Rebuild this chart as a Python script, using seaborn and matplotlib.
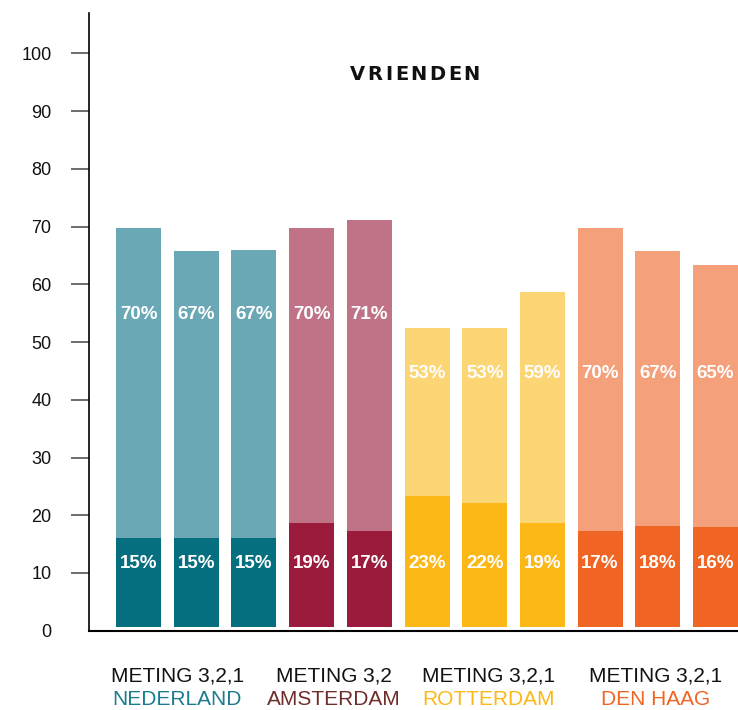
import pandas as pd
import seaborn as sns
import matplotlib.pyplot as plt

sns.set_theme(style="white")
plt.rcParams["font.family"] = ["Liberation Sans", "DejaVu Sans"]

# ---- data ----
groups = ["NEDERLAND", "AMSTERDAM", "ROTTERDAM", "DEN HAAG"]
group_titles = ["METING 3,2,1", "METING 3,2", "METING 3,2,1", "METING 3,2,1"]
group_sizes = [3, 2, 3, 3]

# bar tops as read against the y axis
total_tops = [69.8, 65.8, 66.0, 69.8, 71.1, 52.4, 52.5, 58.6, 69.8, 65.8, 63.4]
base_tops = [16.0, 16.0, 16.0, 18.7, 17.3, 23.4, 22.2, 18.7, 17.3, 18.2, 18.0]
total_labels = ["70%", "67%", "67%", "70%", "71%", "53%", "53%", "59%", "70%", "67%", "65%"]
base_labels = ["15%", "15%", "15%", "19%", "17%", "23%", "22%", "19%", "17%", "18%", "16%"]
title = "VRIENDEN"

# ---- styling ----
dark_colors = ["#066F7F", "#9A1B3C", "#FBB817", "#F06424"]
light_colors = ["#6AA8B5", "#C07387", "#FCD574", "#F4A07B"]
name_colors = ["#1A7C8C", "#6E2E2B", "#FBB817", "#F06424"]
label_y_top = [54.8, 54.8, 44.6, 44.6]   # where the upper % labels sit per group
label_y_base = 11.7
bar_base = 0.7                           # bars float slightly above the axis line

group_of_bar = [g for g, n in zip(range(len(groups)), group_sizes) for _ in range(n)]
bar_ids = [f"b{i}" for i in range(len(total_tops))]

df = pd.DataFrame({
    "bar": bar_ids,
    "group": [groups[g] for g in group_of_bar],
    "total": [t - bar_base for t in total_tops],
    "base": [b - bar_base for b in base_tops],
})

fig = plt.figure(figsize=(7.38, 7.10), dpi=100)
ax = fig.add_axes([89 / 738, 1 - 630.7 / 710, 1 - 89 / 738, (630.7 - 13) / 710])

sns.barplot(data=df, x="bar", y="total", hue="bar",
            palette=[light_colors[g] for g in group_of_bar],
            width=0.78, saturation=1, legend=False, bottom=bar_base,
            linewidth=0, ax=ax)
sns.barplot(data=df, x="bar", y="base", hue="bar",
            palette=[dark_colors[g] for g in group_of_bar],
            width=0.78, saturation=1, legend=False, bottom=bar_base,
            linewidth=0, ax=ax)

# percentage labels
for i, g in enumerate(group_of_bar):
    ax.text(i, label_y_top[g], total_labels[i], ha="center", va="center",
            color="white", fontsize=13.5, fontweight="bold")
    ax.text(i, label_y_base, base_labels[i], ha="center", va="center",
            color="white", fontsize=13.5, fontweight="bold")

ax.set_xlim(-0.86, 10.39)
ax.set_ylim(0, 107)
ax.set_yticks(range(0, 101, 10))
ax.set_yticklabels([str(v) for v in range(0, 101, 10)], fontsize=13, color="#111111")
ax.tick_params(axis="y", left=True, length=13, width=1.2, color="#555555", pad=14)
ax.yaxis.get_major_ticks()[0].tick1line.set_visible(False)
ax.set_xticks([])
ax.set_xlabel("")
ax.set_ylabel("")

for side in ["top", "right"]:
    ax.spines[side].set_visible(False)
ax.spines["left"].set_color("black")
ax.spines["left"].set_linewidth(1.2)
ax.spines["bottom"].set_color("black")
ax.spines["bottom"].set_linewidth(1.5)

# group captions below the axis
name_x = [0.67, 3.39, 6.06, 8.96]
for x, cap, name, c in zip(name_x, group_titles, groups, name_colors):
    ax.text(x, -0.073, cap, transform=ax.get_xaxis_transform(),
            ha="center", va="center", fontsize=15, color="#111111")
    ax.text(x, -0.112, name, transform=ax.get_xaxis_transform(),
            ha="center", va="center", fontsize=15, color=c)

# title with letter spacing: place each letter on its own
renderer = fig.canvas.get_renderer()
title_kw = dict(fontsize=14, fontweight="bold", color="#111111",
                family=["DejaVu Sans"], va="center", ha="left")
letters = [fig.text(0, 0, ch, **title_kw) for ch in title]
widths = [t.get_window_extent(renderer).width for t in letters]
tracking = 2.5
total_w = sum(widths) + tracking * (len(letters) - 1)
x_px = 415 - total_w / 2
for t, w in zip(letters, widths):
    t.set_position((x_px / 738, 1 - 74 / 710))
    x_px += w + tracking

fig.savefig("out.png", dpi=100)
